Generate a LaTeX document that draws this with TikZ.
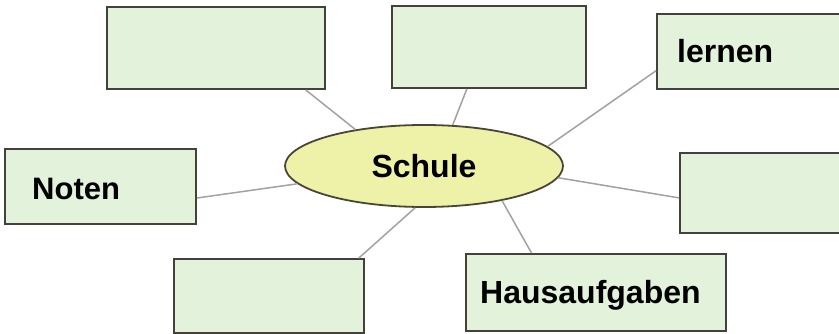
\documentclass[tikz,border=0pt]{standalone}
\usepackage{fontspec}
\setmainfont{Liberation Sans}
\usetikzlibrary{shapes.geometric,calc}
\definecolor{boxfill}{HTML}{E2F2DB}
\definecolor{boxline}{HTML}{45403B}
\definecolor{ellfill}{HTML}{EEF1A8}
\definecolor{ellline}{HTML}{4A4636}
\definecolor{conn}{HTML}{A2A2A2}
\tikzset{
  box/.style={draw=boxline, line width=1.8pt, fill=boxfill, rectangle, inner sep=0pt},
  word/.style={font=\fontsize{31}{36}\selectfont\bfseries, text=black, inner sep=0pt, anchor=base west},
  bigword/.style={word, font=\fontsize{32}{36}\selectfont\bfseries},
  conline/.style={draw=conn, line width=1.5pt},
}
\begin{document}
\begin{tikzpicture}[x=1pt,y=-1pt]
\clip (0,0) rectangle (839,334);
\fill[white] (0,0) rectangle (839,334);
% boxes
\node[box, minimum width=218pt, minimum height=82pt] (b1) at (216,48) {};
\node[box, minimum width=194pt, minimum height=82pt] (b2) at (489,47) {};
\node[box, minimum width=213pt, minimum height=75pt] (blern) at (763.5,51.5) {};
\node[box, minimum width=220pt, minimum height=80pt] (b4) at (790,193) {};
\node[box, minimum width=260pt, minimum height=77pt] (bhaus) at (596,292.5) {};
\node[box, minimum width=190pt, minimum height=74pt] (b6) at (269,296) {};
\node[box, minimum width=191pt, minimum height=75pt] (bnot) at (100.5,186.5) {};
% centre ellipse
\node[ellipse, draw=ellline, line width=1.8pt, fill=ellfill, minimum width=278pt, minimum height=82pt, inner sep=0pt,
      font=\fontsize{32}{36}\selectfont\bfseries] (sch) at (424,166) {Schule};
% texts
\node[word] (tnot) at (32,200) {Noten};
\node[bigword] (tlern) at (677,63) {lernen};
\node[bigword] (thaus) at (480,303) {Hausaufgaben};
% connectors
\path[conline] ($(b1.south west)!0.908!(b1.south east)$) -- (sch.152.8);
\path[conline] ($(b2.south west)!0.387!(b2.south east)$) -- (sch.55.7);
\path[conline] ($(blern.north west)!0.75!(blern.south west)$) -- (sch.9.5);
\path[conline] ($(b4.north west)!0.56!(b4.south west)$) -- (sch.-5);
\path[conline] ($(bhaus.north west)!0.254!(bhaus.north east)$) -- (sch.-24);
\path[conline] ($(b6.north west)!0.968!(b6.north east)$) -- (sch.-102);
\path[conline] ($(bnot.north east)!0.65!(bnot.south east)$) -- (sch.-172.8);
\end{tikzpicture}
\end{document}
